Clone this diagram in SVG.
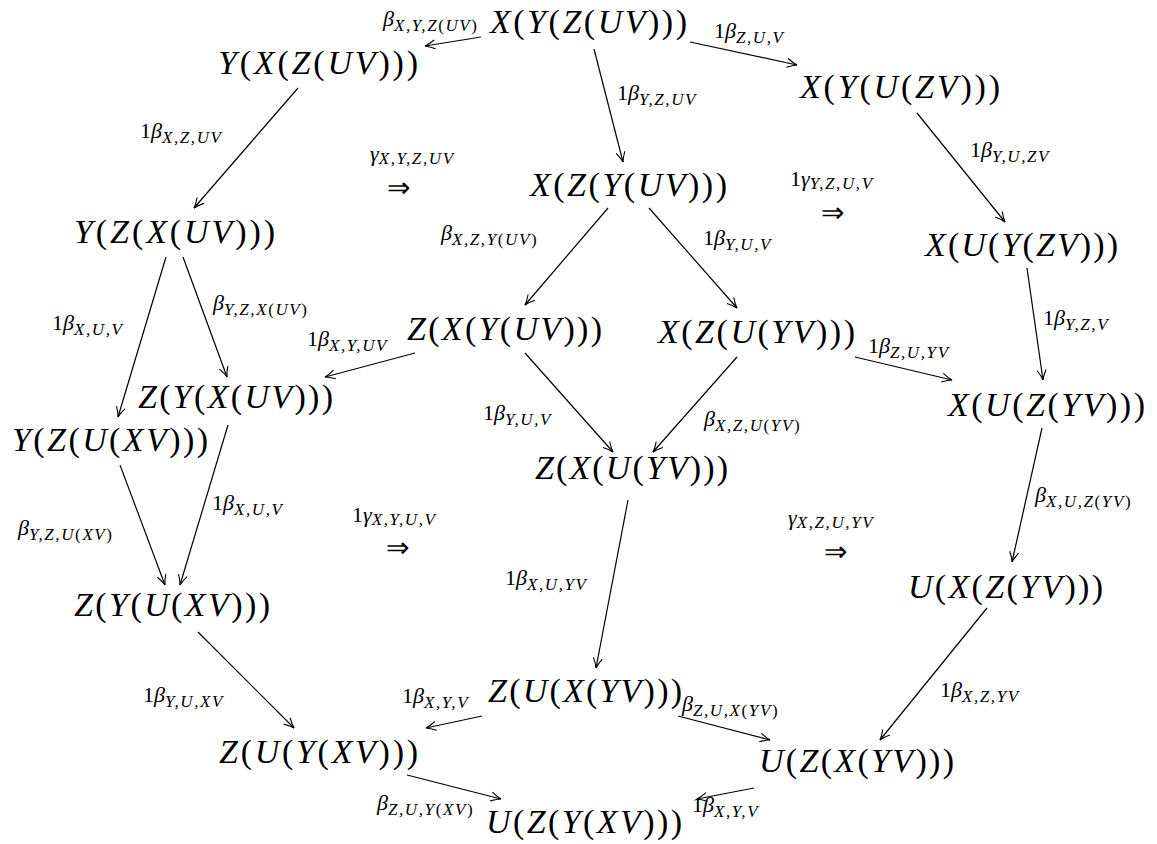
<svg xmlns="http://www.w3.org/2000/svg" width="1157" height="844" viewBox="0 0 1157 844" font-family="Liberation Serif, Times New Roman, serif">
<style>
.n{font-size:34px;font-style:italic;fill:#000}
.p{font-style:normal}
.l{font-size:22px;font-style:italic;fill:#000}
.s{font-size:17px;letter-spacing:1.6px}
.u{font-style:normal}
.ar{font-size:28px;fill:#000}
.e{stroke:#000;stroke-width:1.2;fill:none;marker-end:url(#h)}
</style>
<defs>
<marker id="h" markerUnits="userSpaceOnUse" markerWidth="14" markerHeight="14" viewBox="-12 -7 14 14" refX="0" refY="0" orient="auto">
<path d="M-10,-4.5 Q-4,-1 0,0 Q-4,1 -10,4.5" stroke="#000" stroke-width="1.1" fill="none"/>
</marker>
</defs>
<rect width="1157" height="844" fill="#fff"/>
<g id="edges">
<line class="e" x1="481" y1="37" x2="425" y2="46"/>
<line class="e" x1="690" y1="42" x2="797" y2="65"/>
<line class="e" x1="594" y1="49" x2="623" y2="162"/>
<line class="e" x1="298" y1="88" x2="194" y2="208"/>
<line class="e" x1="917" y1="113" x2="1005" y2="222"/>
<line class="e" x1="608" y1="208" x2="525" y2="305"/>
<line class="e" x1="649" y1="208" x2="737" y2="308"/>
<line class="e" x1="166" y1="257" x2="118" y2="417"/>
<line class="e" x1="183" y1="257" x2="227" y2="377"/>
<line class="e" x1="415" y1="353" x2="325" y2="377"/>
<line class="e" x1="525" y1="353" x2="613" y2="452"/>
<line class="e" x1="737" y1="357" x2="653" y2="452"/>
<line class="e" x1="855" y1="357" x2="952" y2="380"/>
<line class="e" x1="1027" y1="268" x2="1043" y2="380"/>
<line class="e" x1="1042" y1="428" x2="1012" y2="562"/>
<line class="e" x1="228" y1="425" x2="180" y2="585"/>
<line class="e" x1="120" y1="465" x2="165" y2="585"/>
<line class="e" x1="628" y1="500" x2="596" y2="668"/>
<line class="e" x1="198" y1="632" x2="294" y2="728"/>
<line class="e" x1="987" y1="608" x2="880" y2="740"/>
<line class="e" x1="482" y1="716" x2="426" y2="728"/>
<line class="e" x1="678" y1="716" x2="770" y2="740"/>
<line class="e" x1="407" y1="775" x2="501" y2="799"/>
<line class="e" x1="754" y1="788" x2="697" y2="799"/>
</g>
<g id="n1"><text class="n" x="490" y="33" textLength="197" lengthAdjust="spacing">X<tspan class="p">(</tspan>Y<tspan class="p">(</tspan>Z<tspan class="p">(</tspan>UV<tspan class="p">)))</tspan></text></g>
<g id="n2"><text class="n" x="218" y="74" textLength="200" lengthAdjust="spacing">Y<tspan class="p">(</tspan>X<tspan class="p">(</tspan>Z<tspan class="p">(</tspan>UV<tspan class="p">)))</tspan></text></g>
<g id="n3"><text class="n" x="800" y="98" textLength="200" lengthAdjust="spacing">X<tspan class="p">(</tspan>Y<tspan class="p">(</tspan>U<tspan class="p">(</tspan>ZV<tspan class="p">)))</tspan></text></g>
<g id="n4"><text class="n" x="530" y="196" textLength="197" lengthAdjust="spacing">X<tspan class="p">(</tspan>Z<tspan class="p">(</tspan>Y<tspan class="p">(</tspan>UV<tspan class="p">)))</tspan></text></g>
<g id="n5"><text class="n" x="74" y="243" textLength="201" lengthAdjust="spacing">Y<tspan class="p">(</tspan>Z<tspan class="p">(</tspan>X<tspan class="p">(</tspan>UV<tspan class="p">)))</tspan></text></g>
<g id="n6"><text class="n" x="925" y="256" textLength="193" lengthAdjust="spacing">X<tspan class="p">(</tspan>U<tspan class="p">(</tspan>Y<tspan class="p">(</tspan>ZV<tspan class="p">)))</tspan></text></g>
<g id="n7"><text class="n" x="407" y="340" textLength="195" lengthAdjust="spacing">Z<tspan class="p">(</tspan>X<tspan class="p">(</tspan>Y<tspan class="p">(</tspan>UV<tspan class="p">)))</tspan></text></g>
<g id="n8"><text class="n" x="658" y="343" textLength="197" lengthAdjust="spacing">X<tspan class="p">(</tspan>Z<tspan class="p">(</tspan>U<tspan class="p">(</tspan>YV<tspan class="p">)))</tspan></text></g>
<g id="n9"><text class="n" x="138" y="408" textLength="195" lengthAdjust="spacing">Z<tspan class="p">(</tspan>Y<tspan class="p">(</tspan>X<tspan class="p">(</tspan>UV<tspan class="p">)))</tspan></text></g>
<g id="n10"><text class="n" x="12" y="451" textLength="196" lengthAdjust="spacing">Y<tspan class="p">(</tspan>Z<tspan class="p">(</tspan>U<tspan class="p">(</tspan>XV<tspan class="p">)))</tspan></text></g>
<g id="n11"><text class="n" x="948" y="416" textLength="197" lengthAdjust="spacing">X<tspan class="p">(</tspan>U<tspan class="p">(</tspan>Z<tspan class="p">(</tspan>YV<tspan class="p">)))</tspan></text></g>
<g id="n12"><text class="n" x="535" y="479" textLength="193" lengthAdjust="spacing">Z<tspan class="p">(</tspan>X<tspan class="p">(</tspan>U<tspan class="p">(</tspan>YV<tspan class="p">)))</tspan></text></g>
<g id="n13"><text class="n" x="74" y="616" textLength="196" lengthAdjust="spacing">Z<tspan class="p">(</tspan>Y<tspan class="p">(</tspan>U<tspan class="p">(</tspan>XV<tspan class="p">)))</tspan></text></g>
<g id="n14"><text class="n" x="908" y="598" textLength="195" lengthAdjust="spacing">U<tspan class="p">(</tspan>X<tspan class="p">(</tspan>Z<tspan class="p">(</tspan>YV<tspan class="p">)))</tspan></text></g>
<g id="n15"><text class="n" x="488" y="702" textLength="194" lengthAdjust="spacing">Z<tspan class="p">(</tspan>U<tspan class="p">(</tspan>X<tspan class="p">(</tspan>YV<tspan class="p">)))</tspan></text></g>
<g id="n16"><text class="n" x="219" y="763" textLength="199" lengthAdjust="spacing">Z<tspan class="p">(</tspan>U<tspan class="p">(</tspan>Y<tspan class="p">(</tspan>XV<tspan class="p">)))</tspan></text></g>
<g id="n17"><text class="n" x="759" y="772" textLength="195" lengthAdjust="spacing">U<tspan class="p">(</tspan>Z<tspan class="p">(</tspan>X<tspan class="p">(</tspan>YV<tspan class="p">)))</tspan></text></g>
<g id="n18"><text class="n" x="486" y="833" textLength="196" lengthAdjust="spacing">U<tspan class="p">(</tspan>Z<tspan class="p">(</tspan>Y<tspan class="p">(</tspan>XV<tspan class="p">)))</tspan></text></g>
<g id="labels">
<text class="l" x="383" y="26">β<tspan class="s" dy="5">X,Y,Z<tspan class="u">(</tspan>UV<tspan class="u">)</tspan></tspan></text>
<text class="l" x="714" y="38"><tspan class="u">1</tspan>β<tspan class="s" dy="5">Z,U,V</tspan></text>
<text class="l" x="617" y="100"><tspan class="u">1</tspan>β<tspan class="s" dy="5">Y,Z,UV</tspan></text>
<text class="l" x="140" y="138"><tspan class="u">1</tspan>β<tspan class="s" dy="5">X,Z,UV</tspan></text>
<text class="l" x="370" y="161">γ<tspan class="s" dy="3">X,Y,Z,UV</tspan></text>
<text class="ar" x="387" y="197">⇒</text>
<text class="l" x="970" y="157"><tspan class="u">1</tspan>β<tspan class="s" dy="5">Y,U,ZV</tspan></text>
<text class="l" x="790" y="186"><tspan class="u">1</tspan>γ<tspan class="s" dy="3">Y,Z,U,V</tspan></text>
<text class="ar" x="821" y="222">⇒</text>
<text class="l" x="441" y="240">β<tspan class="s" dy="5">X,Z,Y<tspan class="u">(</tspan>UV<tspan class="u">)</tspan></tspan></text>
<text class="l" x="703" y="245"><tspan class="u">1</tspan>β<tspan class="s" dy="5">Y,U,V</tspan></text>
<text class="l" x="52" y="330"><tspan class="u">1</tspan>β<tspan class="s" dy="5">X,U,V</tspan></text>
<text class="l" x="213" y="310">β<tspan class="s" dy="5">Y,Z,X<tspan class="u">(</tspan>UV<tspan class="u">)</tspan></tspan></text>
<text class="l" x="307" y="346"><tspan class="u">1</tspan>β<tspan class="s" dy="5">X,Y,UV</tspan></text>
<text class="l" x="868" y="353"><tspan class="u">1</tspan>β<tspan class="s" dy="5">Z,U,YV</tspan></text>
<text class="l" x="1043" y="325"><tspan class="u">1</tspan>β<tspan class="s" dy="5">Y,Z,V</tspan></text>
<text class="l" x="483" y="420"><tspan class="u">1</tspan>β<tspan class="s" dy="5">Y,U,V</tspan></text>
<text class="l" x="704" y="426">β<tspan class="s" dy="5">X,Z,U<tspan class="u">(</tspan>YV<tspan class="u">)</tspan></tspan></text>
<text class="l" x="212" y="510"><tspan class="u">1</tspan>β<tspan class="s" dy="5">X,U,V</tspan></text>
<text class="l" x="18" y="535">β<tspan class="s" dy="5">Y,Z,U<tspan class="u">(</tspan>XV<tspan class="u">)</tspan></tspan></text>
<text class="l" x="352" y="522"><tspan class="u">1</tspan>γ<tspan class="s" dy="3">X,Y,U,V</tspan></text>
<text class="ar" x="386" y="557">⇒</text>
<text class="l" x="788" y="525">γ<tspan class="s" dy="3">X,Z,U,YV</tspan></text>
<text class="ar" x="824" y="561">⇒</text>
<text class="l" x="1035" y="502">β<tspan class="s" dy="5">X,U,Z<tspan class="u">(</tspan>YV<tspan class="u">)</tspan></tspan></text>
<text class="l" x="505" y="585"><tspan class="u">1</tspan>β<tspan class="s" dy="5">X,U,YV</tspan></text>
<text class="l" x="143" y="702"><tspan class="u">1</tspan>β<tspan class="s" dy="5">Y,U,XV</tspan></text>
<text class="l" x="940" y="697"><tspan class="u">1</tspan>β<tspan class="s" dy="5">X,Z,YV</tspan></text>
<text class="l" x="402" y="703"><tspan class="u">1</tspan>β<tspan class="s" dy="5">X,Y,V</tspan></text>
<text class="l" x="682" y="711">β<tspan class="s" dy="5">Z,U,X<tspan class="u">(</tspan>YV<tspan class="u">)</tspan></tspan></text>
<text class="l" x="377" y="810">β<tspan class="s" dy="5">Z,U,Y<tspan class="u">(</tspan>XV<tspan class="u">)</tspan></tspan></text>
<text class="l" x="692" y="812"><tspan class="u">1</tspan>β<tspan class="s" dy="5">X,Y,V</tspan></text>
</g>
</svg>
